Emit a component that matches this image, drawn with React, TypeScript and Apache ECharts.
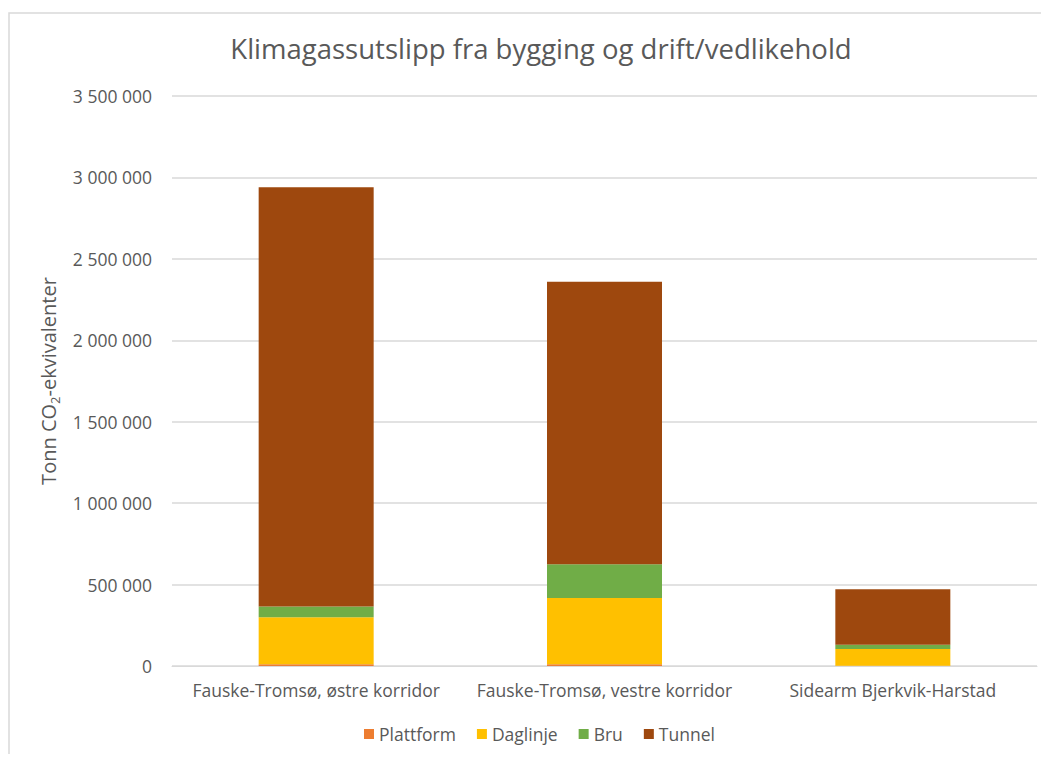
import React, { useEffect, useRef } from "react";
import * as echarts from "echarts";

const categories = [
  "Fauske-Tromsø, østre korridor",
  "Fauske-Tromsø, vestre korridor",
  "Sidearm Bjerkvik-Harstad",
];
const plattform = [10000, 10000, 2000];
const daglinje = [290000, 408000, 102000];
const bru = [65000, 207000, 27000];
const tunnel = [2575000, 1734000, 340000];

const seriesNames = ["Plattform", "Daglinje", "Bru", "Tunnel"];
const seriesColors = ["#ED7D31", "#FFC000", "#70AD47", "#9E480E"];
const seriesData = [plattform, daglinje, bru, tunnel];

const FONT = "'Open Sans', 'Noto Sans', sans-serif";
const GRAY = "#595959";

function fmt(v: number): string {
  return String(v).replace(/\B(?=(\d{3})+(?!\d))/g, " ");
}

export default function App() {
  const ref = useRef<HTMLDivElement>(null);
  useEffect(() => {
    if (!ref.current) return;
    const chart = echarts.init(ref.current, undefined, { renderer: "svg" });
    chart.setOption({
      animation: false,
      backgroundColor: "#ffffff",
      textStyle: { fontFamily: FONT },
      graphic: [
        {
          type: "rect",
          shape: { x: 1, y: 5, width: 1100, height: 800 },
          style: { fill: "none", stroke: "#D9D9D9", lineWidth: 1.5 },
          silent: true,
        },
      ],
      title: {
        text: "Klimagassutslipp fra bygging og drift/vedlikehold",
        left: 528,
        textAlign: "center",
        top: 21,
        textStyle: {
          fontFamily: FONT,
          fontSize: 27.5,
          fontWeight: "normal",
          color: GRAY,
        },
      },
      legend: {
        data: seriesNames,
        bottom: 6,
        left: 351,
        itemWidth: 10,
        itemHeight: 10,
        itemGap: 21,
        icon: "rect",
        textStyle: { fontFamily: FONT, fontSize: 17.5, color: GRAY },
      },
      grid: { left: 164, right: 4, top: 88, bottom: 88, containLabel: false },
      xAxis: {
        type: "category",
        data: categories,
        axisLine: { show: true, lineStyle: { color: "#D9D9D9", width: 1 } },
        axisTick: { show: false },
        axisLabel: {
          fontFamily: FONT,
          fontSize: 17.5,
          color: GRAY,
          margin: 15,
          interval: 0,
          hideOverlap: false,
        },
      },
      yAxis: {
        type: "value",
        min: 0,
        max: 3500000,
        interval: 500000,
        name: "{a|Tonn CO}{b|2}{a|-ekvivalenter}",
        nameLocation: "middle",
        nameRotate: 90,
        nameGap: 108,
        nameTextStyle: {
          rich: {
            a: { fontFamily: FONT, fontSize: 20, color: GRAY, lineHeight: 26 },
            b: {
              fontFamily: FONT,
              fontSize: 13,
              color: GRAY,
              lineHeight: 26,
              verticalAlign: "bottom",
              padding: [10, 0, 0, 0],
            },
          },
        },
        axisLine: { show: false },
        axisTick: { show: false },
        splitLine: { lineStyle: { color: "#D9D9D9", width: 1.5 } },
        axisLabel: {
          fontFamily: FONT,
          fontSize: 17.5,
          color: GRAY,
          margin: 20,
          formatter: (v: number) => fmt(v),
        },
      },
      series: seriesNames.map((name, i) => ({
        name,
        type: "bar",
        stack: "total",
        barWidth: 115,
        data: seriesData[i],
        itemStyle: { color: seriesColors[i] },
      })),
    });
    return () => chart.dispose();
  }, []);
  return <div ref={ref} style={{ width: 1033, height: 746 }} />;
}
